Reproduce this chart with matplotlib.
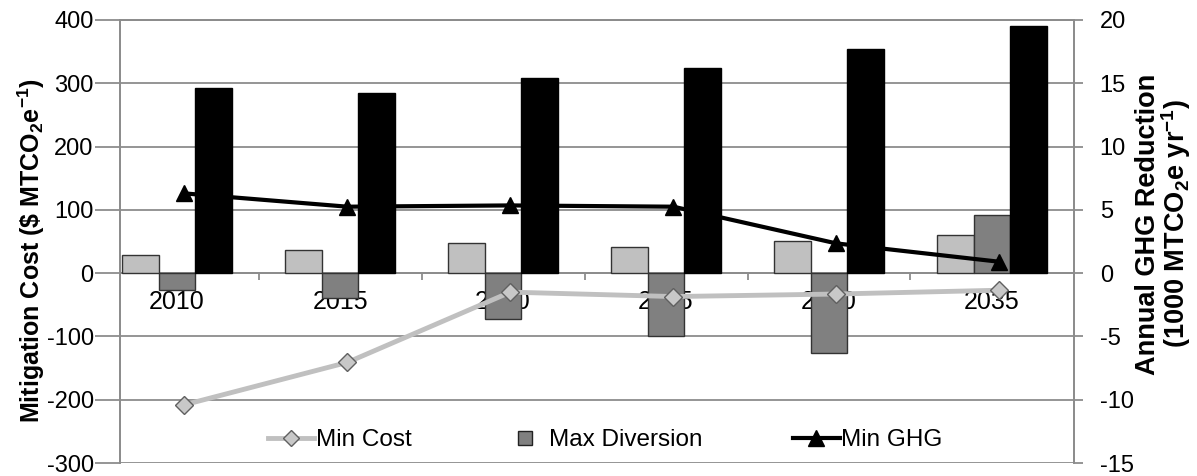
import matplotlib.pyplot as plt
import numpy as np
from matplotlib.lines import Line2D

plt.rcParams['font.family'] = ['Liberation Sans', 'DejaVu Sans']
plt.rcParams['mathtext.fontset'] = 'custom'
plt.rcParams['mathtext.rm'] = 'Liberation Sans'
plt.rcParams['mathtext.bf'] = 'Liberation Sans:bold'
plt.rcParams['axes.unicode_minus'] = False

years = ['2010', '2015', '2020', '2025', '2030', '2035']

# annual GHG reduction (1000 MTCO2e/yr), right axis
ghg_min_cost = [1.4, 1.8, 2.4, 2.1, 2.5, 3.0]
ghg_max_div = [-1.3, -2.0, -3.6, -5.0, -6.3, 4.6]
ghg_min_ghg = [14.6, 14.2, 15.4, 16.2, 17.7, 19.5]

# mitigation cost ($/MTCO2e), left axis
cost_min_cost = [-208, -141, -30, -37, -33, -27]
cost_min_ghg = [126, 105, 107, 105, 47, 18]

grid_col = '#8c8c8c'

fig = plt.figure(figsize=(11.97, 4.76), dpi=100)
ax = fig.add_axes([0.1003, 0.0273, 0.7969, 0.9307])
ax2 = ax.twinx()

x = np.arange(len(years))
w = 0.225

ax.bar(x - w, ghg_min_cost, w, color='#c0c0c0', edgecolor='#333333', linewidth=1, zorder=3)
ax.bar(x, ghg_max_div, w, color='#808080', edgecolor='#333333', linewidth=1, zorder=3)
ax.bar(x + w, ghg_min_ghg, w, color='black', edgecolor='black', linewidth=1, zorder=3)

ax.set_xlim(-0.35, 5.503)
ax.set_ylim(-15, 20)
ax.set_yticks(np.arange(-15, 21, 5))
ax.yaxis.tick_right()
ax.set_xticks([])
ax.grid(axis='y', color=grid_col, linewidth=1.3, zorder=0)
ax.set_axisbelow(True)

# category axis sits at zero
ax.axhline(0, color=grid_col, linewidth=1.3, zorder=1)
ax.vlines(x[:-1] + 0.5, -0.55, 0, color=grid_col, linewidth=1.3, zorder=1)
for xi, yr in zip(x, years):
    ax.text(xi, -2.3, yr, ha='center', va='center', fontsize=18, color='black', zorder=2)

off = 0.045
ax2.plot(x + off, cost_min_cost, color='#c0c0c0', linewidth=3.5, marker='D', markersize=9,
         markerfacecolor='#c8c8c8', markeredgecolor='#606060', markeredgewidth=1, zorder=4)
ax2.plot(x + off, cost_min_ghg, color='black', linewidth=3, marker='^', markersize=12,
         markerfacecolor='black', markeredgecolor='black', zorder=4)
ax2.set_ylim(-300, 400)
ax2.set_yticks(np.arange(-300, 401, 100))
ax2.yaxis.tick_left()

for a in (ax, ax2):
    for s in a.spines.values():
        s.set_color(grid_col)
        s.set_linewidth(1.3)
    a.spines['bottom'].set_visible(False)

ax2.tick_params(axis='y', length=18, width=1.3, color=grid_col, pad=1, labelsize=17)
ax.tick_params(axis='y', length=6.5, width=1.3, color=grid_col, pad=12, labelsize=17)

fig.text(31 / 1197, 1 - 251 / 476, r'Mitigation Cost (\$ MTCO$_\mathbf{2}$e$^\mathbf{-1}$)',
         fontsize=18, fontweight='bold', rotation=90, ha='center', va='center')
fig.text(1164 / 1197, 1 - 224 / 476,
         'Annual GHG Reduction\n' + r'(1000 MTCO$_\mathbf{2}$e yr$^\mathbf{-1}$)',
         fontsize=19.5, fontweight='bold', rotation=90, ha='center', va='center',
         multialignment='center', linespacing=0.9)

handles = [
    Line2D([], [], color='#c0c0c0', linewidth=3.5, marker='D', markersize=8,
           markerfacecolor='#c8c8c8', markeredgecolor='#606060'),
    Line2D([], [], linestyle='none', marker='s', markersize=10,
           markerfacecolor='#808080', markeredgecolor='#222222'),
    Line2D([], [], color='black', linewidth=3, marker='^', markersize=11),
]
fig.legend(handles, ['Min Cost', 'Max Diversion', 'Min GHG'], loc='center',
           bbox_to_anchor=(0.5054, 0.0756), ncol=3, frameon=False, fontsize=17.5,
           handlelength=1.93, handletextpad=0.05, columnspacing=3.7, borderpad=0)

fig.savefig('out.png', dpi=100)
